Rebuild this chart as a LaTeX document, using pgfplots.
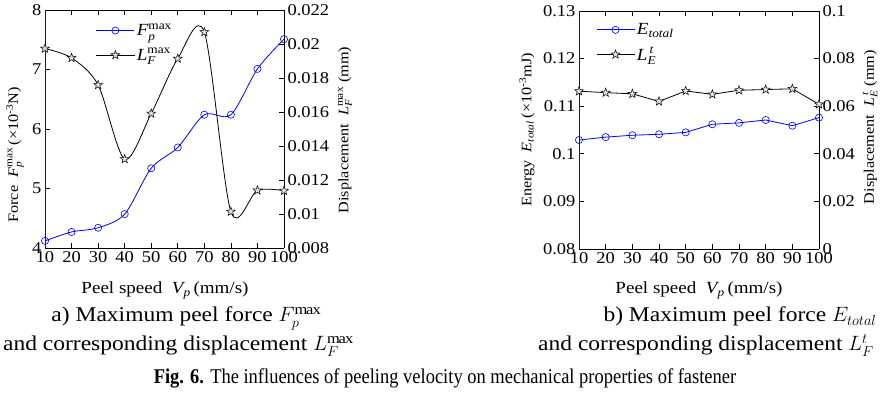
\documentclass[border=0pt]{standalone}
\usepackage{fontspec}
\setmainfont[FakeStretch=1.12]{Liberation Serif}
\newfontfamily\condserif[FakeStretch=0.88]{Liberation Serif}
\usepackage{amsmath}
\usepackage{pgfplots}
\pgfplotsset{compat=1.18}
\pgfdeclareplotmark{ostar}{%
  \pgfpathmoveto{\pgfpointpolar{90}{\pgfplotmarksize}}%
  \pgfpathlineto{\pgfpointpolar{126}{0.42\pgfplotmarksize}}%
  \pgfpathlineto{\pgfpointpolar{162}{\pgfplotmarksize}}%
  \pgfpathlineto{\pgfpointpolar{198}{0.42\pgfplotmarksize}}%
  \pgfpathlineto{\pgfpointpolar{234}{\pgfplotmarksize}}%
  \pgfpathlineto{\pgfpointpolar{270}{0.42\pgfplotmarksize}}%
  \pgfpathlineto{\pgfpointpolar{306}{\pgfplotmarksize}}%
  \pgfpathlineto{\pgfpointpolar{342}{0.42\pgfplotmarksize}}%
  \pgfpathlineto{\pgfpointpolar{18}{\pgfplotmarksize}}%
  \pgfpathlineto{\pgfpointpolar{54}{0.42\pgfplotmarksize}}%
  \pgfpathclose
  \pgfusepathqfillstroke}
\pgfplotsset{
  base/.style={scale only axis, anchor=south west, height=238pt,
    xmin=10, xmax=100, xtick={10,20,...,100},
    tick align=inside, major tick length=5pt,
    ticklabel style={font=\fontsize{16.5}{18}\selectfont},
    /pgf/number format/assume math mode=true,
    /pgf/number format/fixed, /pgf/number format/precision=3,
    scaled y ticks=false,
    axis line style={line width=0.8pt},
    every tick/.style={black, line width=0.7pt},
    legend style={draw=none, fill=none, font=\fontsize{17}{19}\selectfont,
      row sep=7pt, legend cell align=left},
    legend image code/.code={\draw[mark repeat=2,mark phase=2,##1] plot coordinates {(0pt,0pt) (19pt,0pt) (38pt,0pt)};}
  },
  fstyle/.style={blue, line width=0.8pt, mark=o, mark size=3.6pt, mark options={fill=white, line width=0.6pt}},
  lstyle/.style={black, line width=0.8pt, mark=ostar, mark size=4.6pt, mark options={fill=black!12, line width=0.5pt}}
}
\begin{document}
\begin{tikzpicture}
\path[use as bounding box] (0pt,0pt) rectangle (881pt,396pt);
% ---------------- left chart ----------------
\begin{axis}[base, at={(45pt,148pt)}, width=239pt,
  ymin=4, ymax=8, ytick={4,5,6,7,8},
  axis y line*=left, y axis line style={blue}]
\addplot[fstyle, smooth] coordinates {
(10,4.12) (20,4.27) (30,4.34) (40,4.57) (50,5.34) (60,5.69) (70,6.24) (80,6.24) (90,7.01) (100,7.51)};
\end{axis}
\begin{axis}[base, at={(45pt,148pt)}, width=239pt,
  ymin=0.008, ymax=0.022, ytick={0.008,0.01,0.012,0.014,0.016,0.018,0.02,0.022},
  axis y line*=right, axis x line=none,
  legend style={at={(0.2,0.96)}, anchor=north west}]
\addlegendimage{fstyle}
\addlegendentry{$\textit{F}_{\textit{p}}^{\textrm{max}}$}
\addplot[lstyle, smooth] coordinates {
(10,0.01973) (20,0.01918) (30,0.01759) (40,0.01323) (50,0.01591) (60,0.01914) (70,0.0207) (80,0.01014) (90,0.01139) (100,0.01137)};
\addlegendentry{$\textit{L}_{\textit{F}}^{\textrm{max}}$}
\end{axis}
% ---------------- right chart ----------------
\begin{axis}[base, at={(579pt,147pt)}, width=240pt,
  ymin=0.08, ymax=0.13, ytick={0.08,0.09,0.1,0.11,0.12,0.13},
  axis y line*=left, y axis line style={blue}]
\addplot[fstyle] coordinates {
(10,0.1029) (20,0.1035) (30,0.1039) (40,0.1041) (50,0.1045) (60,0.1062) (70,0.1065) (80,0.1071) (90,0.1059) (100,0.1076)};
\end{axis}
\begin{axis}[base, at={(579pt,147pt)}, width=240pt,
  ymin=0, ymax=0.1, ytick={0,0.02,0.04,0.06,0.08,0.1},
  axis y line*=right, axis x line=none,
  legend style={at={(0.058,0.965)}, anchor=north west}]
\addlegendimage{fstyle}
\addlegendentry{$\textit{E}_{\textit{total}}$}
\addplot[lstyle] coordinates {
(10,0.0663) (20,0.0657) (30,0.0652) (40,0.062) (50,0.0664) (60,0.065) (70,0.0667) (80,0.067) (90,0.0673) (100,0.0608)};
\addlegendentry{$\textit{L}_{\textit{E}}^{\,\textit{t}}$}
\end{axis}
% ---------------- axis labels ----------------
\begin{scope}[every node/.style={font=\fontsize{14.5}{17}\selectfont, inner sep=0pt}]
\node[rotate=90] at (15pt,241pt) {Force\ \ $\textit{F}_{\textit{p}}^{\textrm{max}}$\,(×10\textsuperscript{-3}N)};
\node[rotate=90] at (345pt,266pt) {Displacement\ \ $\textit{L}_{\textit{F}}^{\textrm{max}}$ (mm)};
\node[rotate=90] at (527pt,266pt) {Energy\ \ $\textit{E}_{\textit{total}}$\,(×10\textsuperscript{-3}mJ)};
\node[rotate=90] at (870pt,269pt) {Displacement\ \ $\textit{L}_{\textit{E}}^{\,\textit{t}}$ (mm)};
\end{scope}
\begin{scope}[every node/.style={font=\fontsize{17}{19}\selectfont, inner sep=0pt, anchor=base}]
\node at (165pt,102pt) {Peel speed\ \ $\textit{V}_{\textit{p}}$\,(mm/s)};
\node at (699pt,102pt) {Peel speed\ \ $\textit{V}_{\textit{p}}$\,(mm/s)};
\end{scope}
% ---------------- captions ----------------
\begin{scope}[every node/.style={font=\fontsize{21}{25}\selectfont, inner sep=0pt, anchor=base}]
\node at (186pt,74pt) {a) Maximum peel force $F_p^{\mathrm{max}}$};
\node at (178pt,45pt) {and corresponding displacement $L_F^{\mathrm{max}}$};
\node at (740pt,74pt) {b) Maximum peel force $E_{total}$};
\node at (706pt,45pt) {and corresponding displacement $L_F^{t}$};
\node[font=\condserif\fontsize{21}{25}\selectfont] at (445pt,12pt) {\textbf{Fig. 6.} The influences of peeling velocity on mechanical properties of fastener};
\end{scope}
\end{tikzpicture}
\end{document}
